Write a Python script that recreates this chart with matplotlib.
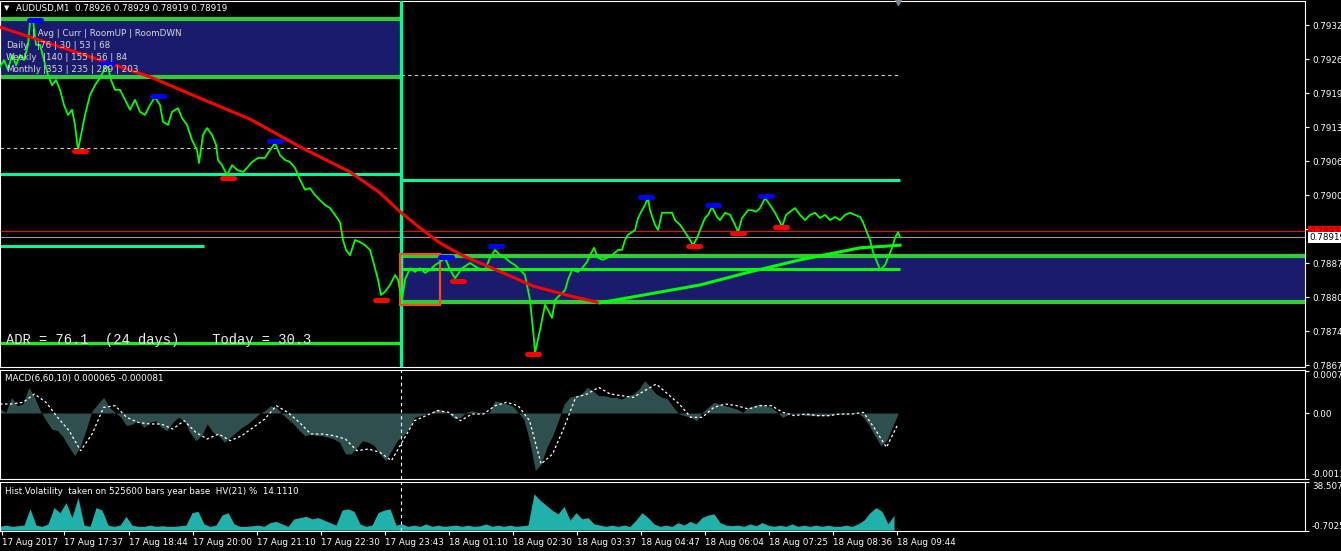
"""
AUDUSD M1 chart (MetaTrader style) - price panel with daily range boxes,
MACD(6,60,10) sub-window and historical volatility sub-window.
Output: out.png
"""

import numpy as np
import matplotlib
matplotlib.use("Agg")
import matplotlib.pyplot as plt
from matplotlib.patches import Rectangle

W, H = 1341, 551
plt.rcParams["font.family"] = ["DejaVu Sans"]

# ---------------------------------------------------------------- data
# price path (bar index, price)
price_bar = [0, 4, 8, 12, 16, 20, 24, 28, 30, 33, 36, 40, 44, 48, 52, 56, 60, 64, 68, 72,
             75, 78, 81, 85, 90, 95, 100, 104, 107, 111, 115, 120, 125, 130, 135, 140, 145, 150, 155, 160,
             163, 168, 172, 178, 182, 187, 192, 197, 199, 203, 207, 212, 216, 218, 222, 227, 232, 237, 243, 247,
             252, 258, 265, 270, 275, 280, 285, 290, 295, 300, 305, 310, 315, 320, 325, 330, 335, 340, 343, 346,
             350, 355, 360, 365, 370, 375, 378, 381, 385, 390, 395, 398, 402, 405, 410, 415, 420, 425, 430, 435,
             440, 445, 450, 455, 462, 470, 478, 485, 490, 495, 500, 505, 510, 515, 520, 525, 530, 532, 534, 535,
             540, 545, 548, 552, 555, 560, 565, 568, 572, 578, 582, 587, 590, 594, 598, 603, 607, 612, 618, 622,
             625, 628, 632, 635, 638, 642, 645, 648, 650, 655, 658, 662, 668, 672, 675, 680, 685, 690, 693, 697,
             700, 705, 708, 712, 717, 720, 725, 730, 735, 738, 742, 748, 752, 756, 760, 765, 770, 775, 780, 782,
             786, 790, 795, 800, 805, 810, 815, 820, 825, 830, 835, 840, 845, 850, 855, 860, 863, 866, 870, 873,
             877, 880, 885, 888, 892, 895, 898, 900]
price_close = [0.79245, 0.79258, 0.79239, 0.79268, 0.79248, 0.79268, 0.79258, 0.79287, 0.79331, 0.79335,
               0.79287, 0.79287, 0.79258, 0.79229, 0.79210, 0.79220, 0.79201, 0.79172, 0.79153, 0.79163,
               0.79134, 0.79086, 0.79115, 0.79153, 0.79191, 0.79210, 0.79224, 0.79239, 0.79252, 0.79220,
               0.79201, 0.79201, 0.79182, 0.79163, 0.79182, 0.79159, 0.79153, 0.79172, 0.79187, 0.79172,
               0.79140, 0.79134, 0.79159, 0.79166, 0.79147, 0.79134, 0.79105, 0.79086, 0.79061, 0.79115,
               0.79128, 0.79115, 0.79096, 0.79067, 0.79057, 0.79038, 0.79057, 0.79048, 0.79044, 0.79052,
               0.79063, 0.79071, 0.79071, 0.79086, 0.79099, 0.79076, 0.79067, 0.79063, 0.79052, 0.79029,
               0.79010, 0.79013, 0.79000, 0.78990, 0.78981, 0.78975, 0.78962, 0.78948, 0.78914, 0.78895,
               0.78885, 0.78914, 0.78910, 0.78904, 0.78895, 0.78860, 0.78838, 0.78809, 0.78815, 0.78828,
               0.78847, 0.78838, 0.78799, 0.78838, 0.78860, 0.78853, 0.78860, 0.78851, 0.78857, 0.78866,
               0.78872, 0.78880, 0.78857, 0.78841, 0.78860, 0.78870, 0.78860, 0.78857, 0.78880, 0.78895,
               0.78885, 0.78880, 0.78872, 0.78866, 0.78857, 0.78847, 0.78799, 0.78761, 0.78723, 0.78698,
               0.78742, 0.78790, 0.78780, 0.78765, 0.78799, 0.78809, 0.78818, 0.78838, 0.78857, 0.78853,
               0.78860, 0.78872, 0.78885, 0.78899, 0.78880, 0.78876, 0.78880, 0.78885, 0.78895, 0.78895,
               0.78914, 0.78924, 0.78929, 0.78933, 0.78956, 0.78971, 0.78981, 0.78994, 0.78971, 0.78943,
               0.78933, 0.78966, 0.78966, 0.78966, 0.78952, 0.78943, 0.78929, 0.78914, 0.78904, 0.78918,
               0.78933, 0.78956, 0.78962, 0.78977, 0.78958, 0.78952, 0.78966, 0.78962, 0.78943, 0.78929,
               0.78956, 0.78971, 0.78971, 0.78968, 0.78975, 0.78994, 0.78981, 0.78966, 0.78948, 0.78939,
               0.78962, 0.78968, 0.78975, 0.78962, 0.78952, 0.78962, 0.78966, 0.78956, 0.78962, 0.78952,
               0.78958, 0.78952, 0.78962, 0.78966, 0.78962, 0.78958, 0.78948, 0.78933, 0.78914, 0.78891,
               0.78872, 0.78857, 0.78866, 0.78880, 0.78899, 0.78918, 0.78929, 0.78919]

# trend moving average: falling part (red) and rising part (green)
ma_down_bar = [0, 100, 150, 200, 250, 300, 350, 380, 400, 420, 440, 465, 490, 533, 570, 600]
ma_down = [0.79321, 0.79258, 0.79226, 0.79185, 0.79145, 0.79092, 0.79044, 0.79004, 0.78968,
           0.78937, 0.78908, 0.78882, 0.78862, 0.78826, 0.78807, 0.78794]
ma_up_bar = [600, 650, 700, 750, 800, 860, 900]
ma_up = [0.78794, 0.78811, 0.78828, 0.78853, 0.78876, 0.78899, 0.78904]

# swing high / low markers
swing_high_bar = [35, 107, 158, 275, 446, 496, 646, 713, 766]
swing_high = [0.79335, 0.79252, 0.79189, 0.79103, 0.78882, 0.78903, 0.78996, 0.78981, 0.78998]
swing_low_bar = [80, 228, 381, 458, 533, 694, 738, 781]
swing_low = [0.79084, 0.79033, 0.78799, 0.78836, 0.78696, 0.78903, 0.78927, 0.78939]

# range levels
day_start_bar = 401
prev_box = (0.79225, 0.79336)       # yesterday's range box
today_box = (0.78795, 0.78884)      # today's range box
today_mid = 0.78858
prev_level_a = 0.79041
prev_level_b = 0.78902
prev_level_low = 0.78718
today_level = 0.79029
prev_dash = 0.79090
today_dash = 0.79229
ask_price = 0.78931
bid_price = 0.78919
orb_box = (400, 440, 0.78790, 0.78887)

price_ticks = [0.79325, 0.79260, 0.79195, 0.79130, 0.79065, 0.79000, 0.78935,
               0.78870, 0.78805, 0.78740, 0.78675]

# MACD histogram and signal (sampled across bars 0..898)
macd_hist = np.array([
    6.7, 1.1, 26.1, 12.2, 15.0, 42.8, 26.1, 3.9, -12.8, -26.7, -29.4, -40.6, -57.2, -71.1, -54.4,
    -26.7, 3.9, 15.0, 26.1, 9.4, 1.1, -7.2, -21.1, -18.3, -12.8, -23.9, -15.6, -12.8, -23.9, -29.4,
    -15.6, -7.2, -12.8, -32.2, -46.1, -37.8, -18.3, -32.2, -37.8, -48.9, -40.6, -32.2, -23.9, -18.3,
    -10.0, -1.7, 3.9, 12.2, 9.4, -1.7, -10.0, -18.3, -29.4, -37.8, -35.0, -37.8, -37.8, -40.6, -43.3,
    -48.9, -68.3, -68.3, -57.2, -46.1, -48.9, -54.4, -68.3, -79.4, -62.8, -46.1, -37.8, -26.7, -7.2,
    -4.4, -1.7, 1.1, 6.7, 3.9, -1.7, -10.0, -7.2, 1.1, 3.9, 1.1, 1.1, 1.1, 20.6, 17.8, 15.0, 12.2,
    1.1, -10.0, -46.1, -96.1, -85.0, -57.2, -37.8, -12.8, 15.0, 26.1, 28.9, 31.7, 42.8, 37.2, 28.9,
    28.9, 26.1, 26.1, 23.3, 28.9, 31.7, 40.0, 53.9, 42.8, 31.7, 26.1, 23.3, 9.4, -1.7, -4.4, -7.2,
    -12.8, 1.1, 9.4, 17.8, 15.0, 12.2, 9.4, 6.7, 1.1, 9.4, 12.2, 15.0, 12.2, 9.4, 1.1, -7.2, -1.7,
    -1.7, -1.7, -4.4, -4.4, -4.4, -4.4, -4.4, -1.7, -1.7, -1.7, 1.1, 1.1, -7.2, -21.1, -37.8, -54.4,
    -46.1, -23.9, -1.7]) * 1e-5
macd_signal = np.array([
    15.0, 15.0, 17.8, 31.7, 17.8, -7.2, -29.4, -62.8, -35.0, 9.4, 12.2, -7.2, -15.6, -18.3, -18.3,
    -26.7, -12.8, -32.2, -43.3, -35.0, -46.1, -37.8, -23.9, -10.0, 12.2, 1.1, -15.6, -35.0, -35.0,
    -37.8, -43.3, -62.8, -60.0, -65.6, -79.4, -46.1, -12.8, -4.4, 3.9, 1.1, -12.8, -1.7, -1.7, 12.2,
    17.8, 12.2, -12.8, -85.0, -68.3, -23.9, 26.1, 31.7, 42.8, 31.7, 28.9, 26.1, 37.2, 48.3, 31.7,
    15.0, -7.2, -7.2, 9.4, 15.0, 12.2, 6.7, 12.2, 12.2, 1.1, -4.4, -1.7, -4.4, -4.4, -1.7, -1.7,
    1.1, -26.7, -57.2, -18.3]) * 1e-5

# historical volatility HV(21) %, every 6 bars from bar 0
hv_vals = [3, 4, 3, 3.5, 4, 17, 4, 3, 5, 18, 14, 22, 10, 26, 4, 3, 18, 16, 4, 3,
           4, 11, 4, 3, 3, 4, 3, 3.5, 3, 3, 3.5, 4, 14, 15, 5, 3, 4, 12, 14, 5,
           3, 3, 3.5, 4, 3, 6, 7, 5, 3, 9, 10, 11, 9, 10, 8, 6, 4, 16, 17, 15,
           5, 3, 4, 14, 16, 17, 4, 5, 3, 4, 3, 5, 3, 4, 3, 3.5, 4, 3, 4, 3,
           3.5, 5, 3, 4, 3, 4, 3, 3.5, 4, 29, 24, 20, 16, 13, 19, 8, 14, 9, 10, 5,
           4, 3, 4, 3, 4, 3, 8, 14, 10, 5, 3, 4, 3, 6, 4, 7, 5, 10, 12, 13,
           6, 4, 3.5, 4, 3, 5, 3.5, 6, 4, 3, 4, 3, 5, 3, 4, 3, 4, 3, 4, 3,
           3, 4, 3, 5, 8, 14, 18, 15, 5, 12]

time_bars = [2, 64, 129, 193, 257, 321, 385, 449, 513, 577, 641, 705, 769, 833, 897]
time_labels = ["17 Aug 2017", "17 Aug 17:37", "17 Aug 18:44", "17 Aug 20:00", "17 Aug 21:10",
               "17 Aug 22:30", "17 Aug 23:43", "18 Aug 01:10", "18 Aug 02:30", "18 Aug 03:37",
               "18 Aug 04:47", "18 Aug 06:04", "18 Aug 07:25", "18 Aug 08:36", "18 Aug 09:44"]

# ---------------------------------------------------------------- styling
BG = "black"
LIME = "#00FF00"
SPRING = "#00FA9A"
BOXGREEN = "#32CD32"
NAVY = "#1B1B6E"
FS = 6.3


def px_axes(fig, left, top, right, bottom):
    return fig.add_axes([left / W, 1 - bottom / H, (right - left) / W, (bottom - top) / H])


def style_axes(ax):
    ax.set_facecolor(BG)
    for s in ax.spines.values():
        s.set_color("white")
        s.set_linewidth(0.8)
    ax.set_xlim(0, 1305)
    ax.yaxis.tick_right()
    ax.tick_params(axis="y", colors="white", labelcolor="white", labelsize=FS,
                   length=3, width=0.8, pad=2)


fig = plt.figure(figsize=(W / 100, H / 100), dpi=100, facecolor=BG)

# ---------------------------------------------------------------- main panel
ax = px_axes(fig, 0, 1, 1305, 367)
style_axes(ax)
ax.set_ylim(0.786712, 0.793709)
ax.set_xticks([])
ax.set_yticks(price_ticks)
ax.set_yticklabels([f"{t:.5f}" for t in price_ticks])

# range boxes
ax.fill_between([0, day_start_bar], prev_box[0], prev_box[1], color=NAVY, lw=0, zorder=1)
ax.fill_between([day_start_bar, 1305], today_box[0], today_box[1], color=NAVY, lw=0, zorder=1)
for lvl in prev_box:
    ax.hlines(lvl, 0, day_start_bar, color=BOXGREEN, lw=3.0, zorder=2)
for lvl in today_box:
    ax.hlines(lvl, day_start_bar, 1305, color=BOXGREEN, lw=3.0, zorder=2)

ax.hlines(today_mid, day_start_bar, 900, color=LIME, lw=2.2, zorder=2)
ax.hlines(prev_level_a, 0, day_start_bar, color=SPRING, lw=2.2, zorder=2)
ax.hlines(prev_level_b, 0, 204, color=SPRING, lw=2.2, zorder=2)
ax.hlines(prev_level_low, 0, day_start_bar, color=LIME, lw=2.2, zorder=2)
ax.hlines(today_level, day_start_bar, 900, color=SPRING, lw=2.2, zorder=2)
ax.hlines(prev_dash, 0, day_start_bar, color="#cfcfcf", lw=0.8, ls=(0, (3, 3)), zorder=2)
ax.hlines(today_dash, day_start_bar, 900, color="#cfcfcf", lw=0.8, ls=(0, (3, 3)), zorder=2)
ax.axhline(ask_price, color="#FF0000", lw=0.8, zorder=2)
ax.axhline(bid_price, color="#9a9a9a", lw=0.8, zorder=2)
ax.axvline(day_start_bar, color=SPRING, lw=2.3, zorder=3)

ax.add_patch(Rectangle((orb_box[0], orb_box[2]), orb_box[1] - orb_box[0], orb_box[3] - orb_box[2],
                       fill=False, ec="#FF4A14", lw=1.6, zorder=4))

# price and moving average
ax.plot(price_bar, price_close, color=LIME, lw=1.3, zorder=5)
ax.plot(ma_down_bar, ma_down, color="#FF0000", lw=2.2, zorder=6)
ax.plot(ma_up_bar, ma_up, color=LIME, lw=2.2, zorder=6)

for b, p in zip(swing_high_bar, swing_high):
    ax.plot([b - 6, b + 6], [p, p], color="#0000FF", lw=3.6, solid_capstyle="round", zorder=7)
for b, p in zip(swing_low_bar, swing_low):
    ax.plot([b - 6, b + 6], [p, p], color="#FF0000", lw=3.6, solid_capstyle="round", zorder=7)

ax.plot([898], [1], marker="v", color="#778899", ms=6, transform=ax.get_xaxis_transform(),
        clip_on=False, zorder=8)

# price labels on the scale
ytr = ax.get_yaxis_transform()
ax.text(1.003, ask_price, "0.78931", transform=ytr, fontsize=FS, color="#7a0000", va="center",
        ha="left", bbox=dict(boxstyle="square,pad=0.12", fc="#FF0000", ec="none"), zorder=9,
        clip_on=False)
ax.text(1.003, bid_price, "0.78919", transform=ytr, fontsize=FS, color="black", va="center",
        ha="left", bbox=dict(boxstyle="square,pad=0.12", fc="white", ec="none"), zorder=10,
        clip_on=False)

# texts
fig.text(4 / W, 1 - 8 / H, "▼", color="white", fontsize=5, va="center")
fig.text(16 / W, 1 - 8 / H, "AUDUSD,M1  0.78926 0.78929 0.78919 0.78919", color="white",
         fontsize=FS, va="center")
tc = "#d8d8d8"
fig.text(32 / W, 1 - 33 / H, "| Avg | Curr | RoomUP | RoomDWN", color=tc, fontsize=FS, va="center")
fig.text(6 / W, 1 - 45 / H, "Daily", color=tc, fontsize=FS, va="center")
fig.text(37 / W, 1 - 45 / H, "|76 | 30 | 53 | 68", color=tc, fontsize=FS, va="center")
fig.text(6 / W, 1 - 57 / H, "Weekly", color=tc, fontsize=FS, va="center")
fig.text(43 / W, 1 - 57 / H, "|140 | 155 | 56 | 84", color=tc, fontsize=FS, va="center")
fig.text(6 / W, 1 - 69 / H, "Monthly", color=tc, fontsize=FS, va="center")
fig.text(43 / W, 1 - 69 / H, "|353 | 235 | 289 | 203", color=tc, fontsize=FS, va="center")
fig.text(6 / W, 1 - 340 / H, "ADR = 76.1  (24 days)    Today = 30.3", color="#eeeeee",
         fontsize=9.9, family=["Liberation Mono", "DejaVu Sans Mono"], va="center")

# ---------------------------------------------------------------- MACD panel
axm = px_axes(fig, 0, 370, 1305, 479)
style_axes(axm)
axm.set_ylim(-0.0011, 0.000717)
axm.set_xticks([])
macd_x = np.linspace(0, 898, len(macd_hist))
sig_x = np.linspace(0, 898, len(macd_signal))
axm.fill_between(macd_x, macd_hist, 0, color="#2F4F4F", lw=0)
axm.plot(sig_x, macd_signal, color="white", lw=0.9, ls=(0, (2, 2)))
axm.axvline(day_start_bar, color="white", lw=0.8, ls=(0, (3, 3)))
axm.set_yticks([0.0007, 0.0, -0.0011])
axm.set_yticklabels(["0.00070", "0.00", "-0.00115"])
lbls = axm.get_yticklabels()
lbls[0].set_va("top")
lbls[2].set_va("bottom")
axm.text(5 / 1305, 0.92, "MACD(6,60,10) 0.000065 -0.000081", transform=axm.transAxes,
         color="white", fontsize=FS, va="center")

# ---------------------------------------------------------------- HV panel
axh = px_axes(fig, 0, 482, 1305, 531)
style_axes(axh)
axh.set_ylim(-0.7025, 38.5071)
hv_x = np.arange(len(hv_vals)) * 6
axh.fill_between(hv_x, hv_vals, 0, color="#20B2AA", lw=0)
axh.axvline(day_start_bar, color="white", lw=0.8, ls=(0, (3, 3)))
axh.set_yticks([38.5071, -0.7025])
axh.set_yticklabels(["38.5071", "-0.7025"])
hl = axh.get_yticklabels()
hl[0].set_va("top")
hl[1].set_va("bottom")
axh.text(5 / 1305, 0.8, "Hist.Volatility  taken on 525600 bars year base  HV(21) %  14.1110",
         transform=axh.transAxes, color="white", fontsize=FS, va="center")

axh.set_xticks(time_bars)
axh.set_xticklabels(time_labels)
axh.tick_params(axis="x", colors="white", labelcolor="white", labelsize=FS, length=3,
                width=0.8, pad=2)
for t in axh.get_xticklabels():
    t.set_ha("left")

fig.savefig("out.png", dpi=100, facecolor=BG)
